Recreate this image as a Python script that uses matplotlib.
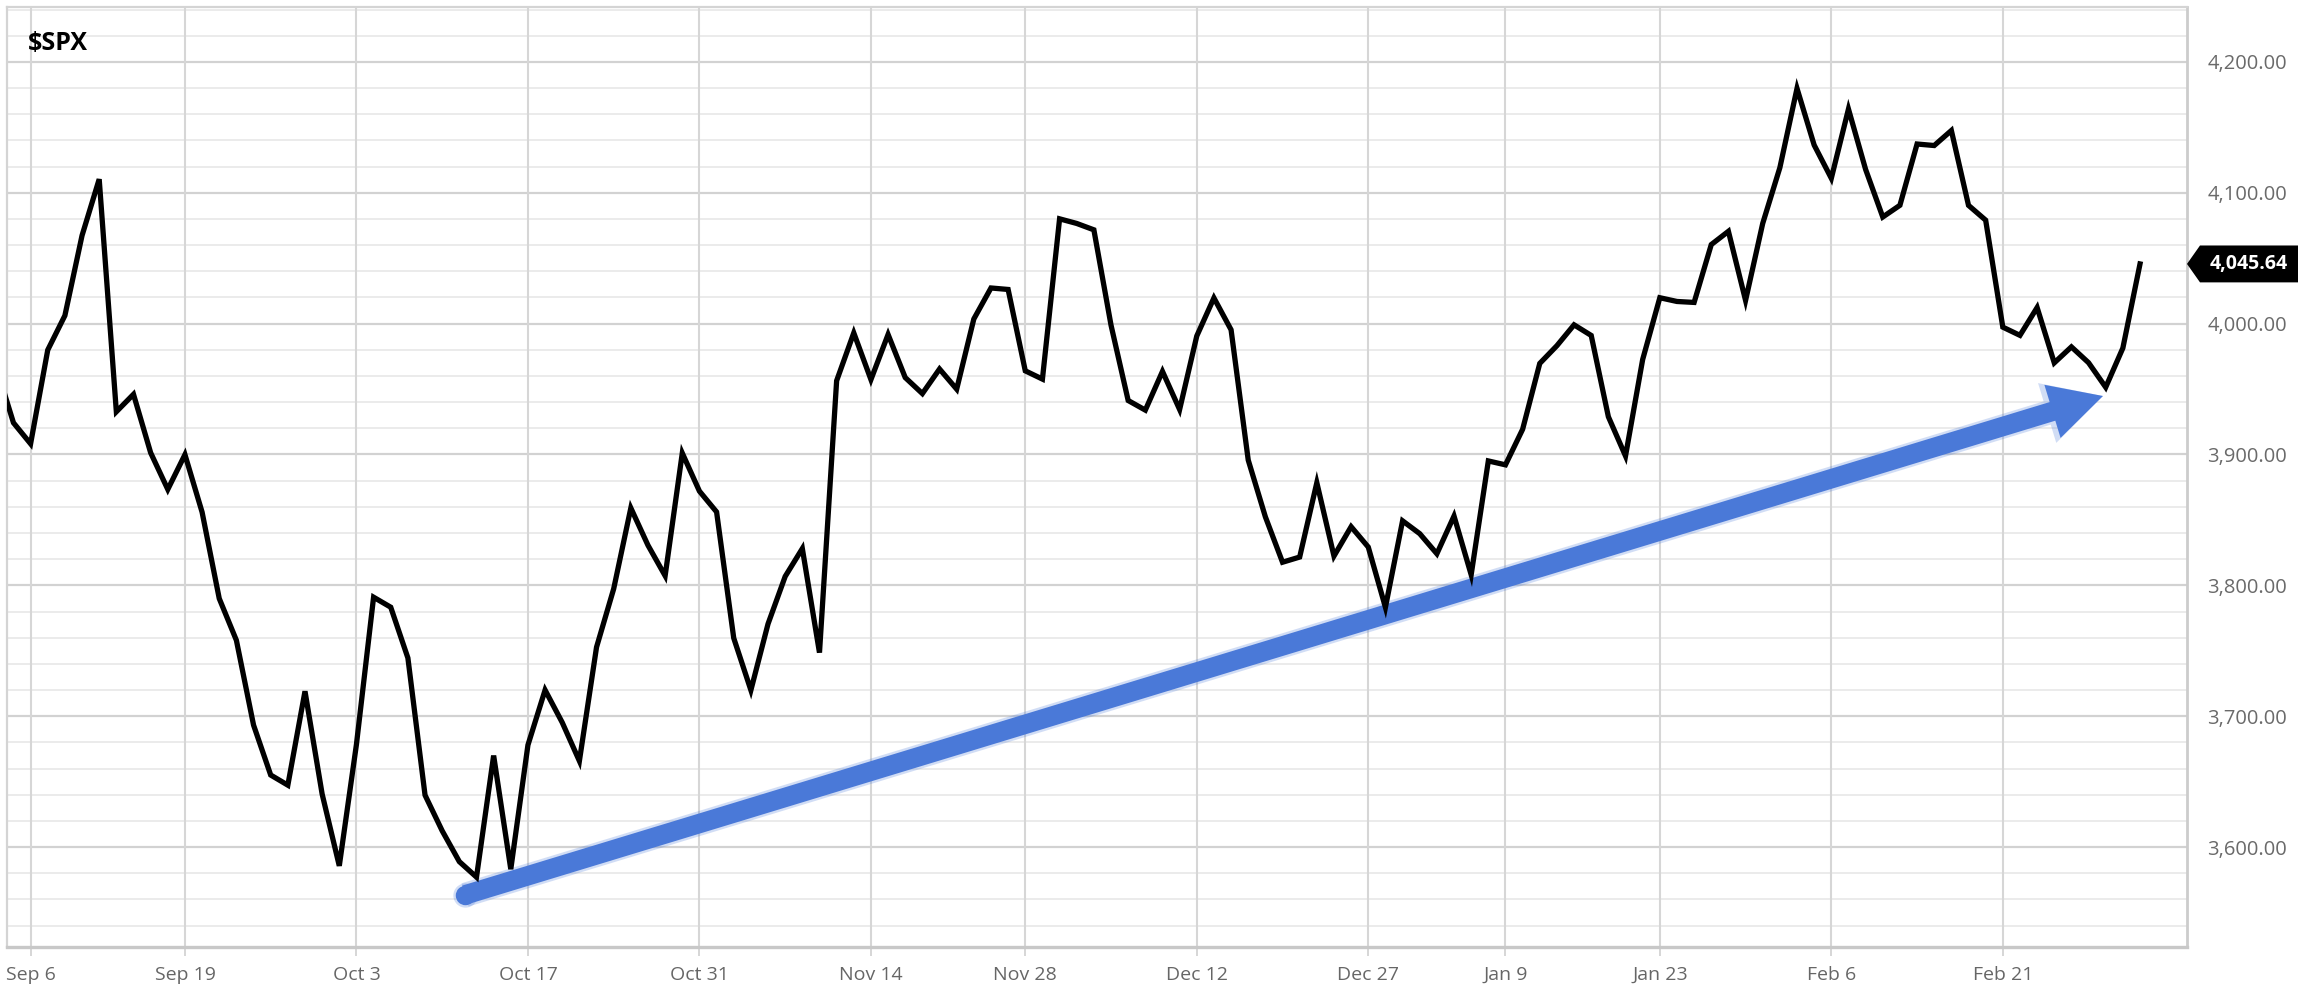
import matplotlib
matplotlib.use('Agg')
import matplotlib.pyplot as plt
import matplotlib.ticker as mticker
import numpy as np
import pandas as pd
from matplotlib.patches import FancyArrowPatch, Polygon
from matplotlib.transforms import blended_transform_factory

plt.rcParams['font.family'] = ['Open Sans', 'DejaVu Sans']

# ---------------- data: S&P 500 daily closes ----------------
holidays = ['2022-09-05', '2022-11-24', '2022-12-26', '2023-01-02', '2023-01-16', '2023-02-20']

sep_close = [3966.85, 3924.26, 3908.19, 3979.87, 4006.18, 4067.36, 4110.41, 3932.69,
             3946.01, 3901.35, 3873.33, 3899.89, 3855.93, 3789.93, 3757.99, 3693.23,
             3655.04, 3647.29, 3719.04, 3640.47, 3585.62]
oct_close = [3678.43, 3790.93, 3783.28, 3744.52, 3639.66, 3612.39, 3588.84, 3577.03,
             3669.91, 3583.07, 3677.95, 3719.98, 3695.16, 3665.78, 3752.75, 3797.34,
             3859.11, 3830.60, 3807.30, 3901.06, 3871.98]
nov_close = [3856.10, 3759.69, 3719.89, 3770.55, 3806.80, 3828.11, 3748.57, 3956.37,
             3992.93, 3957.25, 3991.73, 3958.79, 3946.56, 3965.34, 3949.94, 4003.58,
             4027.26, 4026.12, 3963.94, 3957.63, 4080.11]
dec_close = [4076.57, 4071.70, 3998.84, 3941.26, 3933.92, 3963.51, 3934.38, 3990.56,
             4019.65, 3995.32, 3895.75, 3852.36, 3817.66, 3821.62, 3878.44, 3822.39,
             3844.82, 3829.25, 3783.22, 3849.28, 3839.50]
jan_close = [3824.14, 3852.97, 3808.10, 3895.08, 3892.09, 3919.25, 3969.61, 3983.17,
             3999.09, 3990.97, 3928.86, 3898.85, 3972.61, 4019.81, 4016.95, 4016.22,
             4060.43, 4070.56, 4017.77, 4076.60]
feb_close = [4119.21, 4179.76, 4136.48, 4111.08, 4164.00, 4117.86, 4081.50, 4090.46,
             4137.29, 4136.13, 4147.60, 4090.41, 4079.09, 3997.34, 3991.05, 4012.32,
             3970.04, 3982.24, 3970.15]
mar_close = [3951.39, 3981.35, 4045.64]

close = sep_close + oct_close + nov_close + dec_close + jan_close + feb_close + mar_close
dates = pd.bdate_range('2022-09-01', '2023-03-03', freq='C', holidays=holidays)
x = np.arange(len(close))

tick_dates = ['2022-09-06', '2022-09-19', '2022-10-03', '2022-10-17', '2022-10-31',
              '2022-11-14', '2022-11-28', '2022-12-12', '2022-12-27', '2023-01-09',
              '2023-01-23', '2023-02-06', '2023-02-21']
tick_labels = ['Sep 6', 'Sep 19', 'Oct 3', 'Oct 17', 'Oct 31', 'Nov 14', 'Nov 28',
               'Dec 12', 'Dec 27', 'Jan 9', 'Jan 23', 'Feb 6', 'Feb 21']
y_ticks = [3600, 3700, 3800, 3900, 4000, 4100, 4200]

last_value = close[-1]
# trend arrow annotation (trading-day index, price)
arrow_start = (27.33, 3563.4)
arrow_end = (122.84, 3944.7)

# ---------------- figure ----------------
W, H = 2322, 1000
fig = plt.figure(figsize=(W / 100, H / 100), dpi=100)
ax = fig.add_axes([7 / W, 53 / H, 2180 / W, 940 / H])

ax.set_xlim(0.624, 127.74)
ax.set_ylim(3523.6, 4242.0)

tick_pos = [dates.get_loc(pd.Timestamp(d)) for d in tick_dates]

# grid
for yv in np.arange(3540, 4241, 20):
    major = (yv % 100 == 0)
    ax.axhline(yv, color='#d2d2d2' if major else '#e8e8e8',
               lw=1.6 if major else 1.2, zorder=0.5)
for xp in tick_pos:
    ax.axvline(xp, color='#d6d6d6', lw=1.5, zorder=0.6)

# price line
ax.plot(x, close, color='black', lw=3.8, solid_joinstyle='miter', zorder=3)

# trend arrow (soft glow + body)
arrow_color = '#4a79d8'
glow = FancyArrowPatch(arrow_start, arrow_end, arrowstyle='simple,head_length=42,head_width=45,tail_width=17.5',
                       mutation_scale=1, shrinkA=0, shrinkB=0, color=arrow_color, alpha=0.25, lw=0, zorder=2)
ax.add_patch(glow)
ax.plot([arrow_start[0]], [arrow_start[1]], 'o', ms=17.5, color=arrow_color, alpha=0.25, mew=0, zorder=2)
arr = FancyArrowPatch(arrow_start, arrow_end, arrowstyle='simple,head_length=38,head_width=40,tail_width=14',
                      mutation_scale=1, shrinkA=0, shrinkB=0, color=arrow_color, lw=0, zorder=2.5)
ax.add_patch(arr)
ax.plot([arrow_start[0]], [arrow_start[1]], 'o', ms=14, color=arrow_color, mew=0, zorder=2.5)

# axes styling
for side in ['left', 'top']:
    ax.spines[side].set_color('#d4d4d4')
    ax.spines[side].set_linewidth(1.6)
ax.spines['right'].set_color('#cccccc')
ax.spines['right'].set_linewidth(2.0)
ax.spines['bottom'].set_color('#c8c8c8')
ax.spines['bottom'].set_linewidth(2.4)

ax.set_xticks(tick_pos)
ax.set_xticklabels(tick_labels)
ax.tick_params(axis='x', length=6.5, width=1.2, color='#d0d0d0', pad=7,
               labelsize=14, labelcolor='#666666')

ax.yaxis.tick_right()
ax.set_yticks(y_ticks)
ax.yaxis.set_major_formatter(mticker.FuncFormatter(lambda v, p: f'{v:,.2f}'))
ax.tick_params(axis='y', length=0, pad=14.5, labelsize=14.5, labelcolor='#6a6a6a')

# last value tag
trans = blended_transform_factory(ax.transAxes, ax.transData)
h = 14.1
x_tip, x_b0, x_b1 = 1.0, 1.0 + 13 / 2180, 1.0 + 111 / 2180
tag = Polygon([(x_tip, last_value), (x_b0, last_value + h), (x_b1, last_value + h),
               (x_b1, last_value - h), (x_b0, last_value - h)], closed=True,
              transform=trans, facecolor='black', edgecolor='none', clip_on=False, zorder=5)
ax.add_patch(tag)
ax.text(1.0 + 62 / 2180, last_value, f'{last_value:,.2f}', transform=trans,
        ha='center', va='center', color='white', fontsize=14, fontweight='bold',
        zorder=6, clip_on=False)

# title
fig.text(28 / W, 1 - 50 / H, '$SPX', ha='left', va='baseline', fontsize=18,
         fontweight='bold', color='black')

fig.savefig('out.png', dpi=100, facecolor='white')
